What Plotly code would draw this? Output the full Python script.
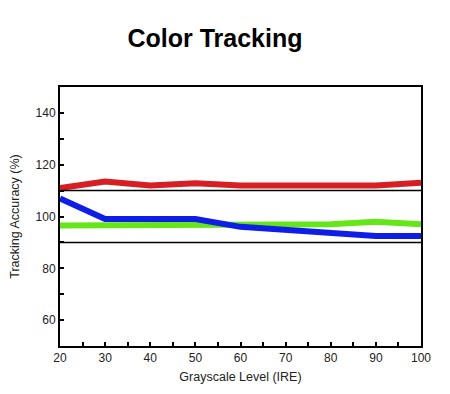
import plotly.graph_objects as go

title = "Color Tracking"
x_label = "Grayscale Level (IRE)"
y_label = "Tracking Accuracy (%)"

ire = [20, 30, 40, 50, 60, 70, 80, 90, 100]
red = [111, 113.5, 112, 112.8, 112, 112, 112, 112, 113]
green = [96.5, 96.5, 97, 97, 97, 97, 97, 98, 97]
blue = [107, 99, 99, 99, 96, 95, 94, 92.5, 92.5]
ref_levels = [90, 110]

x_ticks = [20, 30, 40, 50, 60, 70, 80, 90, 100]
y_ticks = [60, 80, 100, 120, 140]

fig = go.Figure()
for vals, col in [(red, "rgb(215,30,35)"), (green, "rgb(100,230,25)"), (blue, "rgb(15,30,230)")]:
    fig.add_trace(go.Scatter(x=ire, y=vals, mode="lines",
                             line=dict(color=col, width=6), showlegend=False))

for lv in ref_levels:
    fig.add_hline(y=lv, line=dict(color="black", width=1.5))

fig.update_layout(
    width=450, height=394,
    margin=dict(l=52, r=37, t=79, b=56),
    paper_bgcolor="white", plot_bgcolor="white",
    title=dict(text="<b>" + title + "</b>", x=215 / 450 - 8 / 450, xanchor="center",
               y=1 - 30 / 394, yanchor="middle",
               font=dict(family="Liberation Sans, Arial", size=25, color="black")),
    font=dict(family="Liberation Sans, Arial", color="#222"),
)
fig.update_xaxes(range=[20, 100], tickvals=x_ticks, showgrid=False, zeroline=False,
                 showline=True, linecolor="black", linewidth=2, mirror=True, automargin=False,
                 ticks="inside", ticklen=4, tickwidth=2, tickcolor="black",
                 minor=dict(dtick=5, ticks="inside", ticklen=4, tickwidth=2, tickcolor="black"),
                 tickfont=dict(size=12), title=dict(text=x_label, font=dict(size=12.5), standoff=8))
fig.update_yaxes(range=[50, 150], tickvals=y_ticks, showgrid=False, zeroline=False,
                 showline=True, linecolor="black", linewidth=2, mirror=True, automargin=False,
                 ticks="inside", ticklen=4, tickwidth=2, tickcolor="black",
                 minor=dict(dtick=10, ticks="inside", ticklen=4, tickwidth=2, tickcolor="black"),
                 tickfont=dict(size=12), title=dict(text=y_label, font=dict(size=12.5), standoff=13))

fig.write_html("out.html")
